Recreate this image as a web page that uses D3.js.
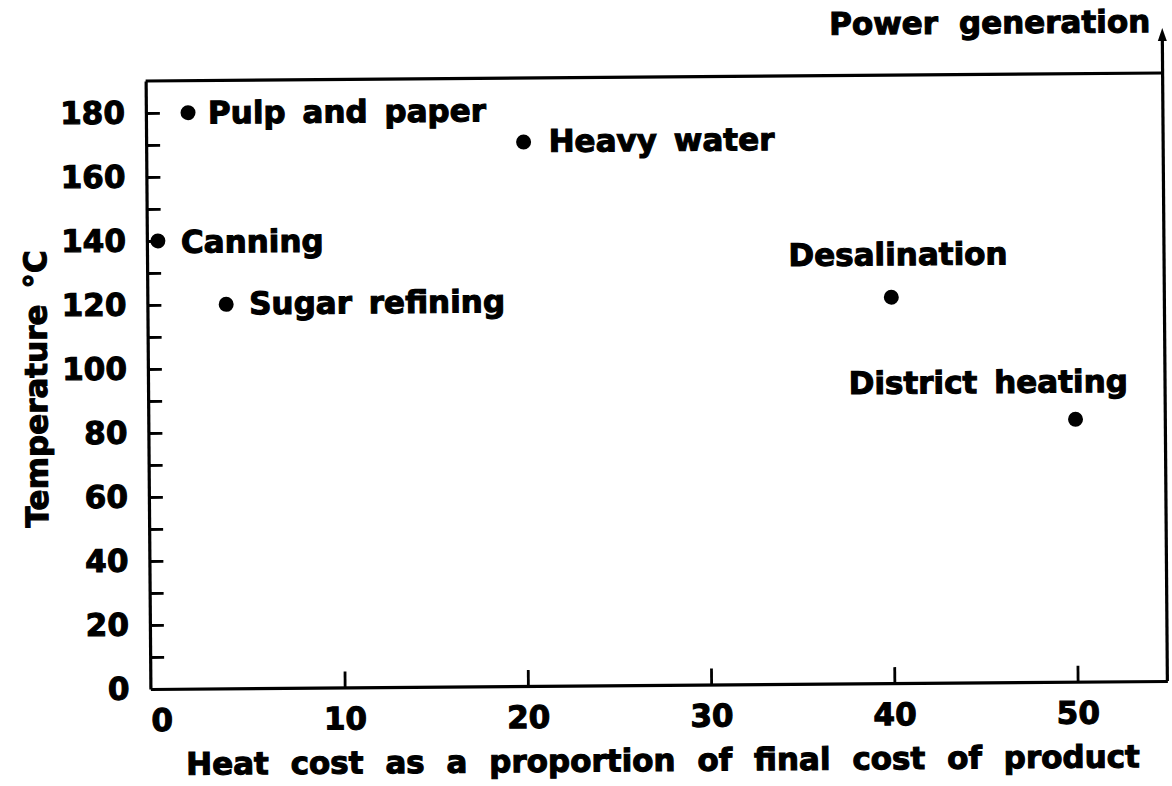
<!DOCTYPE html>
<html>
<head>
<meta charset="utf-8">
<script src="https://cdn.jsdelivr.net/npm/d3@7"></script>
<style>
  body { margin: 0; background: #fff; }
  svg { display: block; }
  text { font-family: "DejaVu Sans", sans-serif; font-weight: bold; font-size: 31px; fill: #000; stroke: #000; stroke-width: 1.1px; }
  .axis path, .axis line { stroke: #000; }
  .axis path { stroke-width: 3.2; }
  .axis line { stroke-width: 2.8; }
</style>
</head>
<body>
<svg></svg>
<script>
// industries
let names = ['Pulp and paper', 'Heavy water', 'Canning', 'Sugar refining', 'Desalination', 'District heating'];
let heatCost = [1.7, 20, 0, 3.7, 40, 50];
let temperature = [180, 170, 140, 120, 120.6, 82];

let xTickValues = [0, 10, 20, 30, 40, 50];
let yTickValues = [0, 10, 20, 30, 40, 50, 60, 70, 80, 90, 100, 110, 120, 130, 140, 150, 160, 170, 180];
let yLabelValues = [0, 20, 40, 60, 80, 100, 120, 140, 160, 180];

// where each label sits relative to its dot
let labelPlace = [
  { anchor: 'start', dx: 20, dy: 11 },
  { anchor: 'start', dx: 25, dy: 10 },
  { anchor: 'start', dx: 23, dy: 12 },
  { anchor: 'start', dx: 23, dy: 10 },
  { anchor: 'middle', dx: 7, dy: -32 },
  { anchor: 'middle', dx: -87, dy: -27 }
];

let width = 1172;
let height = 786;
let plotLeft = 148;
let plotRight = 1165;
let plotTop = 77;
let plotBottom = 685;

let svg = d3.select('svg')
  .attr('width', width)
  .attr('height', height)

// the scanned figure sits a little crooked on the page
let chart = svg.append('g')
  .attr('transform', 'rotate(-0.45, 656, 381)')

let xScale = d3.scaleLinear()
  .domain([-0.6, 54.9])
  .range([plotLeft, plotRight])

let yScale = d3.scaleLinear()
  .domain([0, 190])
  .range([plotBottom, plotTop])

let drawAxes = () => {
  let xAxis = d3.axisBottom(xScale)
    .tickValues(xTickValues)
    .tickSize(-16)
    .tickSizeOuter(0)
    .tickPadding(20)
    .tickFormat(d3.format('d'))

  let gx = chart.append('g')
    .attr('class', 'axis')
    .attr('transform', `translate(0, ${plotBottom})`)
    .call(xAxis)
  gx.selectAll('.tick').filter(d => d === 0).select('line').remove()

  let yAxis = d3.axisLeft(yScale)
    .tickValues(yTickValues)
    .tickSize(-14)
    .tickSizeOuter(0)
    .tickPadding(21)
    .tickFormat(d => yLabelValues.includes(d) ? d : '')

  let gy = chart.append('g')
    .attr('class', 'axis')
    .attr('transform', `translate(${plotLeft}, 0)`)
    .call(yAxis)
  gy.selectAll('.tick').filter(d => d === 0).select('line').remove()

  chart.selectAll('.axis').attr('font-size', null).attr('font-family', null)
  chart.selectAll('.axis text').attr('fill', '#000')

  // top frame line
  chart.append('line')
    .attr('x1', plotLeft)
    .attr('x2', plotRight)
    .attr('y1', plotTop)
    .attr('y2', plotTop)
    .attr('stroke', '#000')
    .attr('stroke-width', 3.2)

  // right side goes on up into the power generation arrow
  let arrowTip = 32;
  chart.append('line')
    .attr('x1', plotRight)
    .attr('x2', plotRight)
    .attr('y1', plotBottom)
    .attr('y2', arrowTip + 8)
    .attr('stroke', '#000')
    .attr('stroke-width', 3.2)

  chart.append('path')
    .attr('d', `M${plotRight},${arrowTip} L${plotRight - 4.5},${arrowTip + 13} L${plotRight + 4.5},${arrowTip + 13} Z`)
    .attr('fill', '#000')

  chart.append('text')
    .attr('x', plotRight - 12)
    .attr('y', 36)
    .attr('text-anchor', 'end')
    .attr('word-spacing', 10)
    .text('Power generation')

  chart.append('text')
    .attr('x', 660)
    .attr('y', 771)
    .attr('text-anchor', 'middle')
    .attr('word-spacing', 11)
    .text('Heat cost as a proportion of final cost of product')

  let yTitle = chart.append('text')
    .attr('transform', 'translate(47, 384) rotate(-90)')
    .attr('text-anchor', 'middle')
  yTitle.append('tspan').text('Temperature')
  yTitle.append('tspan').attr('dx', 16).text('°C')
}

let drawPoints = () => {
  let points = names.map((name, i) => ({ name: name, x: heatCost[i], y: temperature[i], place: labelPlace[i] }))

  chart.selectAll('circle')
    .data(points)
    .enter()
    .append('circle')
    .attr('cx', d => xScale(d.x))
    .attr('cy', d => yScale(d.y))
    .attr('r', 7.5)
    .attr('fill', '#000')

  chart.selectAll('.label')
    .data(points)
    .enter()
    .append('text')
    .attr('class', 'label')
    .attr('x', d => xScale(d.x) + d.place.dx)
    .attr('y', d => yScale(d.y) + d.place.dy)
    .attr('text-anchor', d => d.place.anchor)
    .attr('word-spacing', 6)
    .text(d => d.name)
}

drawAxes()
drawPoints()
</script>
</body>
</html>
